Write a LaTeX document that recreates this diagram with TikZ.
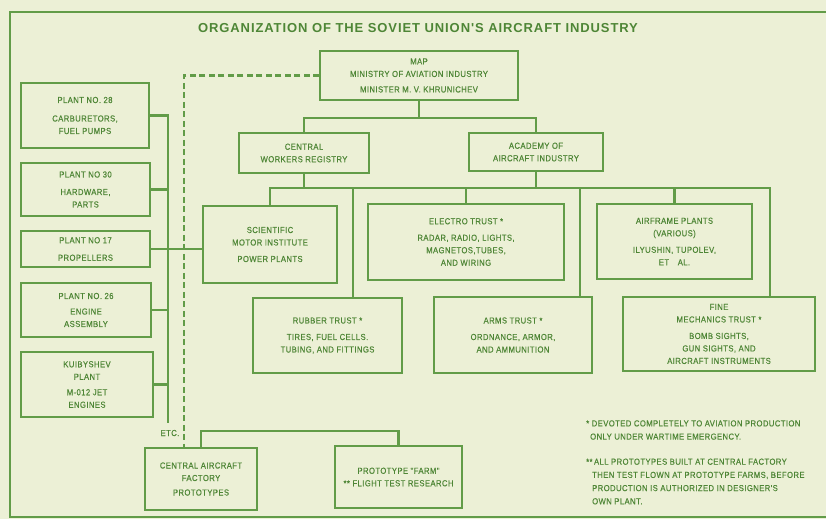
\documentclass[tikz,border=0pt]{standalone}
\usepackage{fontspec}
\setmainfont{Liberation Sans}
\newfontfamily\chartfont[FakeStretch=0.88, LetterSpace=5, FakeBold=0.4]{Liberation Sans}
\newfontfamily\titlefont[LetterSpace=7]{Liberation Sans}
\usepackage{xcolor}
\usetikzlibrary{positioning}
\definecolor{inkgreen}{RGB}{98,156,72}
\definecolor{textgreen}{RGB}{78,134,54}
\definecolor{paper}{RGB}{236,240,214}
\tikzset{
	% boxes of the chart
	orgbox/.style={
		draw=inkgreen,
		line width=1.5pt,
		text=textgreen,
		font=\chartfont\fontsize{8.7}{12.5}\selectfont,
		align=center,
		inner sep=0pt
	}, %
	% free texts
	chartnote/.style={
		text=textgreen,
		font=\chartfont\fontsize{8.7}{13.2}\selectfont,
		inner sep=0pt
	}, %
	% solid connectors
	link/.style={draw=inkgreen, line width=2.8pt},
	% dashed connector
	dashlink/.style={draw=inkgreen, line width=2.8pt, dash pattern=on 6pt off 3.5pt}
}

\begin{document}
\begin{tikzpicture}[x=1pt, y=-1pt]
	\fill [paper] (0,0) rectangle (826,519);
	\useasboundingbox (0,0) rectangle (826,519);

	%% frame and title
	\draw [inkgreen, line width=1.6pt] (830,12) -- (10,12) -- (10,517) -- (830,517);
	\node [text=textgreen, font=\titlefont\bfseries\fontsize{13}{14}\selectfont] (title) at (418,28)
		{ORGANIZATION OF THE SOVIET UNION'S AIRCRAFT INDUSTRY};

	%% top of the chart
	\node [orgbox, minimum width=198pt, minimum height=49pt] (map) at (419,75.5)
		{MAP\\MINISTRY OF AVIATION INDUSTRY\\[3pt]MINISTER M. V. KHRUNICHEV};
	\node [orgbox, minimum width=130pt, minimum height=40pt] (workers) at (304,153)
		{CENTRAL\\WORKERS REGISTRY};
	\node [orgbox, minimum width=134pt, minimum height=38pt] (academy) at (536,152)
		{ACADEMY OF\\AIRCRAFT INDUSTRY};

	%% trusts
	\node [orgbox, minimum width=134pt, minimum height=77pt] (scientific) at (270,244.5)
		{SCIENTIFIC\\MOTOR INSTITUTE\\[4pt]POWER PLANTS};
	\node [orgbox, minimum width=149pt, minimum height=75pt] (rubber) at (327.5,335.5)
		{RUBBER TRUST *\\[4pt]TIRES, FUEL CELLS.\\TUBING, AND FITTINGS};
	\node [orgbox, minimum width=196pt, minimum height=76pt] (electro) at (466,242)
		{ELECTRO TRUST *\\[4pt]RADAR, RADIO, LIGHTS,\\MAGNETOS,TUBES,\\AND WIRING};
	\node [orgbox, minimum width=158pt, minimum height=76pt] (arms) at (513,335)
		{ARMS TRUST *\\[4pt]ORDNANCE, ARMOR,\\AND AMMUNITION};
	\node [orgbox, minimum width=155pt, minimum height=75pt] (airframe) at (674.5,241.5)
		{AIRFRAME PLANTS\\(VARIOUS)\\[4pt]ILYUSHIN, TUPOLEV,\\ET\quad AL.};
	\node [orgbox, minimum width=192pt, minimum height=74pt] (fine) at (719,334)
		{FINE\\MECHANICS TRUST *\\[4pt]BOMB SIGHTS,\\GUN SIGHTS, AND\\AIRCRAFT INSTRUMENTS};

	%% plants
	\node [orgbox, minimum width=128pt, minimum height=65pt] (p28) at (85,115.5)
		{PLANT NO. 28\\[6pt]CARBURETORS,\\FUEL PUMPS};
	\node [orgbox, minimum width=129pt, minimum height=53pt] (p30) at (85.5,189.5)
		{PLANT NO 30\\[5pt]HARDWARE,\\PARTS};
	\node [orgbox, minimum width=129pt, minimum height=36pt] (p17) at (85.5,249)
		{PLANT NO 17\\[5pt]PROPELLERS};
	\node [orgbox, minimum width=130pt, minimum height=54pt] (p26) at (86,310)
		{PLANT NO. 26\\[3pt]ENGINE\\ASSEMBLY};
	\node [orgbox, minimum width=132pt, minimum height=65pt] (kuib) at (87,384.5)
		{KUIBYSHEV\\PLANT\\[3pt]M-012 JET\\ENGINES};

	%% prototypes
	\node [orgbox, minimum width=112pt, minimum height=62pt] (caf) at (201,479)
		{CENTRAL AIRCRAFT\\FACTORY\\[2pt]PROTOTYPES};
	\node [orgbox, minimum width=127pt, minimum height=62pt] (proto) at (398.5,477)
		{PROTOTYPE "FARM"\\** FLIGHT TEST RESEARCH};
	\node [chartnote] (etc) at (170,433) {ETC.};

	%% connectors
	\coordinate (topbus) at (0,118);
	\coordinate (trustbus) at (0,188);
	\coordinate (rubberleg) at (353,188);
	\coordinate (armsleg) at (580,188);
	\coordinate (fineleg) at (770,188);
	\coordinate (trunkend) at (168,423);
	\coordinate (dashcorner) at (184,75.5);
	\coordinate (protobus) at (0,431);

	\draw [link] (map.south) -- (map.south |- topbus);
	\draw [link] (workers.north) |- (academy.north |- topbus) -- (academy.north);
	\draw [link] (workers.south) -- (workers.south |- trustbus);
	\draw [link] (academy.south) -- (academy.south |- trustbus);
	\draw [link] (scientific.north) |- (fineleg) -- (fineleg |- fine.north);
	\draw [link] (rubberleg) -- (rubberleg |- rubber.north);
	\draw [link] (electro.north) -- (electro.north |- trustbus);
	\draw [link] (armsleg) -- (armsleg |- arms.north);
	\draw [link] (airframe.north) -- (airframe.north |- trustbus);

	\draw [link] (p28.east) -| (trunkend);
	\foreach \plant in {p30, p26, kuib} {
		\draw [link] (\plant.east) -- (\plant.east -| trunkend);
	}
	\draw [dashlink] (map.west) -- (dashcorner) -- (dashcorner |- caf.north);
	\draw [link] (p17.east) -- (p17.east -| scientific.west);
	\draw [link] (caf.north) |- (proto.north |- protobus) -- (proto.north);

	%% footnotes
	\node [chartnote, anchor=west, align=left] (note1) at (586,430)
		{* DEVOTED COMPLETELY TO AVIATION PRODUCTION\\\hspace*{4pt}ONLY UNDER WARTIME EMERGENCY.};
	\node [chartnote, anchor=west, align=left] (note2) at (586,481.5)
		{**\,ALL PROTOTYPES BUILT AT CENTRAL FACTORY\\\hspace*{6pt}THEN TEST FLOWN AT PROTOTYPE FARMS, BEFORE\\\hspace*{6pt}PRODUCTION IS AUTHORIZED IN DESIGNER'S\\\hspace*{6pt}OWN PLANT.};
\end{tikzpicture}
\end{document}
